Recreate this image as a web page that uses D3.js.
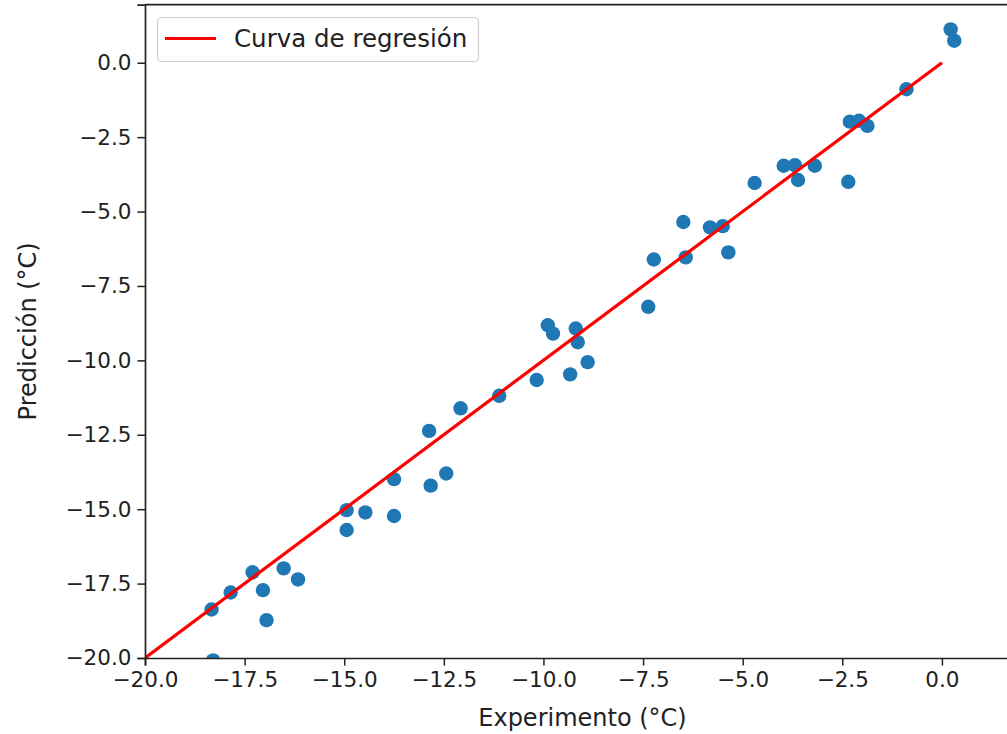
<!DOCTYPE html>
<html>
<head>
<meta charset="utf-8">
<script src="https://cdn.jsdelivr.net/npm/d3@7"></script>
<style>
  body { margin: 0; background: #fff; overflow: hidden; }
  text { font-family: "DejaVu Sans", sans-serif; }
</style>
</head>
<body>
<div id="chart"></div>
<script>
const experimento = [0.22, 0.31, -0.89, -2.31, -2.08, -1.87, -2.35, -3.19, -3.61, -3.69,
  -3.97, -4.70, -6.49, -5.82, -5.50, -5.36, -7.23, -6.43, -7.37, -9.19,
  -9.89, -9.76, -9.14, -9.33, -8.89, -10.17, -11.11, -12.08, -12.87, -12.44,
  -12.83, -13.75, -13.75, -14.47, -14.94, -14.94, -16.52, -16.16, -17.30, -17.04,
  -16.95, -17.85, -18.33, -18.29];
const prediccion = [1.12, 0.74, -0.89, -1.98, -1.95, -2.12, -4.00, -3.46, -3.94, -3.44,
  -3.46, -4.04, -5.35, -5.53, -5.49, -6.37, -6.61, -6.54, -8.20, -8.93,
  -8.82, -9.10, -9.39, -10.47, -10.06, -10.66, -11.19, -11.61, -12.37, -13.80,
  -14.21, -13.99, -15.23, -15.11, -15.03, -15.70, -16.99, -17.36, -17.12, -17.72,
  -18.73, -17.80, -18.37, -20.08];
const lineaX = [-20, 0];
const xTicks = [-20, -17.5, -15, -12.5, -10, -7.5, -5, -2.5, 0];
const yTicks = [-20, -17.5, -15, -12.5, -10, -7.5, -5, -2.5, 0];

const W = 1007, H = 734;
const margin = { top: 4.7, left: 145, bottom: 76 };
const plotW = 875;   // right spine falls just outside the picture
const plotH = H - margin.top - margin.bottom;

const svg = d3.select("#chart").append("svg")
    .attr("width", W)
    .attr("height", H);

const g = svg.append("g")
    .attr("transform", "translate(" + margin.left + "," + margin.top + ")");

const x = d3.scaleLinear().domain([-20, 1.96]).range([0, plotW]);
const y = d3.scaleLinear().domain([-20, 1.95]).range([plotH, 0]);

g.append("clipPath").attr("id", "clip")
  .append("rect").attr("width", plotW).attr("height", plotH);

const plot = g.append("g").attr("clip-path", "url(#clip)");

plot.selectAll("circle")
    .data(experimento)
  .enter().append("circle")
    .attr("cx", d => x(d))
    .attr("cy", (d, i) => y(prediccion[i]))
    .attr("r", 7.2)
    .style("fill", "#1f77b4");

plot.append("path")
    .datum(lineaX)
    .attr("d", d3.line().x(d => x(d)).y(d => y(d)))
    .style("stroke", "red")
    .style("stroke-width", 3.2)
    .style("fill", "none");

const fmt = d => d3.format(".1f")(d);

const xAxis = g.append("g")
    .attr("transform", "translate(0," + plotH + ")")
    .call(d3.axisBottom(x).tickValues(xTicks).tickFormat(fmt).tickSize(7.6).tickPadding(6));

const yAxis = g.append("g")
    .call(d3.axisLeft(y).tickValues(yTicks).tickFormat(fmt).tickSize(7.6).tickPadding(6));

[xAxis, yAxis].forEach(a => {
  a.selectAll("text").style("font-size", "21.5px").style("fill", "#222").style("font-family", "DejaVu Sans");
  a.selectAll("line").style("stroke", "#222").style("stroke-width", 1.5);
  a.select(".domain").style("stroke", "#222").style("stroke-width", 1.7);
});

// top spine
g.append("line")
    .attr("x1", 0).attr("x2", plotW)
    .attr("y1", 0).attr("y2", 0)
    .style("stroke", "#222").style("stroke-width", 1.7);

svg.append("text")
    .attr("x", margin.left + plotW / 2)
    .attr("y", 726)
    .attr("text-anchor", "middle")
    .style("font-size", "24px")
    .style("fill", "#222")
    .text("Experimento (°C)");

svg.append("text")
    .attr("transform", "translate(36," + (margin.top + plotH / 2) + ") rotate(-90)")
    .attr("text-anchor", "middle")
    .style("font-size", "24px")
    .style("fill", "#222")
    .text("Predicción (°C)");

// legend
const lg = svg.append("g");
lg.append("rect")
    .attr("x", 157.5).attr("y", 17.5)
    .attr("width", 321).attr("height", 44)
    .attr("rx", 4)
    .style("fill", "white").style("fill-opacity", 0.8)
    .style("stroke", "#d0d0d0").style("stroke-width", 1.2);
lg.append("line")
    .attr("x1", 165).attr("x2", 216)
    .attr("y1", 38.5).attr("y2", 38.5)
    .style("stroke", "red").style("stroke-width", 3.2);
lg.append("text")
    .attr("x", 234).attr("y", 47)
    .style("font-size", "24.5px")
    .style("fill", "#222")
    .text("Curva de regresión");
</script>
</body>
</html>
